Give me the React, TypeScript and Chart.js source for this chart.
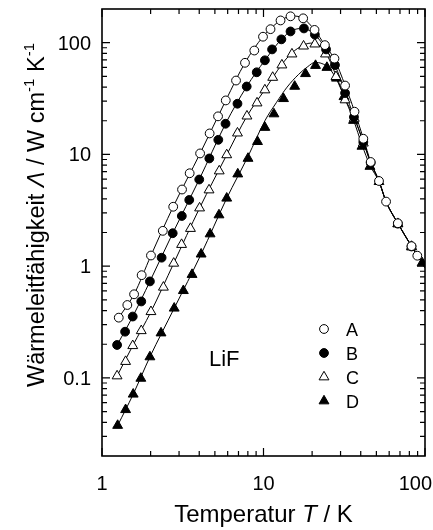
import React, { useEffect, useRef } from 'react';
import { Chart, registerables } from 'chart.js';

Chart.register(...registerables);

// ---------- data ----------
const seriesNames = ['A', 'B', 'C', 'D'];

// measured points, temperature T / K
const aT = [1.27, 1.435, 1.58, 1.76, 2.01, 2.38, 2.76, 3.13, 3.49, 4.05, 4.64, 5.23, 5.84, 6.76, 7.68, 8.77, 9.93, 11.05, 12.75, 14.7, 17.6, 20.7, 24.0, 27.5, 32.0, 36.6, 41.5, 46.1, 51.9, 57.4, 67.9, 82.5, 89.6];
const aK = [0.346, 0.449, 0.56, 0.83, 1.245, 2.07, 3.4, 4.85, 6.78, 10.2, 15.4, 21.9, 30.4, 45.8, 66, 85, 113, 132, 158, 172, 165, 130, 95, 72, 41.3, 24.1, 13.8, 8.55, 5.78, 3.78, 2.42, 1.51, 1.24];

const bT = [1.24, 1.39, 1.55, 1.75, 1.98, 2.34, 2.74, 3.12, 3.47, 4.0, 4.62, 5.25, 5.82, 6.9, 7.87, 9.08, 10.2, 11.3, 12.9, 14.7, 17.8, 20.8, 24.4, 27.7, 32.0, 36.3, 41.5, 46.1, 67.9, 82.5];
const bK = [0.197, 0.259, 0.354, 0.483, 0.73, 1.19, 1.97, 2.81, 3.91, 5.96, 9.2, 13.5, 18.8, 28.4, 40.5, 54.3, 69.5, 87, 107, 126, 134, 118, 87, 63, 35.4, 21.6, 12.9, 8.4, 2.4, 1.5];

const cT = [1.24, 1.40, 1.55, 1.75, 2.01, 2.40, 2.78, 3.11, 3.53, 4.02, 4.6, 5.32, 5.92, 6.9, 7.9, 9.12, 10.2, 11.4, 13.0, 15.0, 17.7, 20.8, 24.2, 28.1, 32.0, 36.5, 41.5, 51.9, 67.9, 82.5];
const cK = [0.104, 0.140, 0.194, 0.264, 0.391, 0.647, 1.06, 1.56, 2.17, 3.31, 4.8, 7.1, 9.9, 15.5, 22, 28.8, 37.7, 48.8, 63, 79, 93, 97, 79, 49.6, 30.7, 21, 12.6, 5.7, 2.4, 1.5];

const dT = [1.25, 1.40, 1.56, 1.74, 1.98, 2.32, 2.80, 3.19, 3.61, 4.11, 4.67, 5.30, 5.92, 6.93, 8.02, 9.18, 10.2, 11.6, 13.3, 15.6, 18.2, 21.0, 24.7, 28.3, 31.5, 36.1, 40.7, 45.6, 67.9, 82.5, 96];
const dK = [0.0375, 0.0519, 0.0714, 0.099, 0.154, 0.252, 0.42, 0.603, 0.841, 1.28, 1.94, 2.87, 4.05, 6.67, 9.2, 13.0, 17.4, 23, 31.5, 40.6, 52.7, 62.4, 59.9, 48, 32.8, 20.1, 11.8, 7.8, 2.38, 1.48, 1.07];

// fitted curves
const aFitT = [1.27, 1.58, 2.01, 2.76, 4.05, 5.84, 7.68, 9.93, 12.75, 15.2, 17.6, 20.7, 24.0, 27.5, 32.0, 36.6, 41.5, 46.1, 51.9, 57.4, 67.9, 82.5, 100];
const aFitK = [0.346, 0.56, 1.245, 3.4, 10.2, 30.4, 66, 113, 158, 173, 165, 130, 95, 71, 41.5, 24.3, 13.9, 8.6, 5.8, 3.8, 2.42, 1.51, 0.97];

const bFitT = [1.24, 1.55, 1.98, 2.74, 4.0, 5.82, 7.87, 10.2, 12.9, 15.0, 17.3, 20.8, 24.4, 27.7, 32.0, 36.3, 41.5, 46.1, 51.9, 57.4, 67.9, 82.5, 100];
const bFitK = [0.197, 0.354, 0.73, 1.97, 5.96, 18.8, 40.5, 69.5, 107, 128, 134, 118, 87, 63, 36, 21.8, 13.1, 8.45, 5.78, 3.78, 2.42, 1.51, 0.97];

const cFitT = [1.24, 1.55, 2.01, 2.78, 4.02, 5.92, 7.9, 10.2, 13.0, 15.0, 17.7, 19.6, 21.5, 24.2, 28.1, 32.0, 36.5, 41.5, 46.1, 51.9, 57.4, 67.9, 82.5, 100];
const cFitK = [0.104, 0.194, 0.391, 1.06, 3.31, 9.9, 22, 38, 64, 81, 95, 99, 97, 82, 51, 31.5, 21.2, 12.8, 8.4, 5.75, 3.78, 2.42, 1.51, 0.97];

const dFitT = [1.25, 1.56, 1.98, 2.80, 4.11, 5.92, 8.02, 10.2, 12.0, 14.0, 16.5, 18.8, 20.8, 23.0, 25.5, 28.3, 31.5, 36.1, 40.7, 45.6, 51.9, 57.4, 67.9, 82.5, 100];
const dFitK = [0.0375, 0.0714, 0.154, 0.42, 1.28, 4.05, 9.6, 20, 29, 40, 52, 61, 66.5, 65, 59, 47, 33, 20.3, 12.2, 8.0, 5.7, 3.76, 2.4, 1.5, 0.97];

// axes
const xMin = 1;
const xMax = 100;
const yMin = 0.02;
const yMax = 200;
const xMajorTicks = [1, 10, 100];
const xTickLabels = ['1', '10', '100'];
const xMinorTicks = [2, 3, 4, 5, 6, 7, 8, 9, 20, 30, 40, 50, 60, 70, 80, 90];
const yMajorTicks = [0.1, 1, 10, 100];
const yTickLabels = ['0.1', '1', '10', '100'];
const yMinorTicks = [0.03, 0.04, 0.05, 0.06, 0.07, 0.08, 0.09, 0.2, 0.3, 0.4, 0.5, 0.6, 0.7, 0.8, 0.9, 2, 3, 4, 5, 6, 7, 8, 9, 20, 30, 40, 50, 60, 70, 80, 90];
const sampleLabel = 'LiF';

// ---------- helpers ----------
const FONT = '"Liberation Sans", Arial, Helvetica, sans-serif';
const zip = (xs: number[], ys: number[]) => xs.map((x, i) => ({ x, y: ys[i] }));

const markerStyles = [
  { style: 'circle', fill: '#ffffff', r: 4.4 },
  { style: 'circle', fill: '#000000', r: 4.4 },
  { style: 'triangle', fill: '#ffffff', r: 5.7 },
  { style: 'triangle', fill: '#000000', r: 5.7 },
];

function drawMarker(ctx: CanvasRenderingContext2D, style: string, fill: string, r: number, x: number, y: number) {
  ctx.beginPath();
  if (style === 'circle') {
    ctx.arc(x, y, r, 0, Math.PI * 2);
  } else {
    let rad = 0;
    ctx.moveTo(x + Math.sin(rad) * r, y - Math.cos(rad) * r);
    rad += (2 * Math.PI) / 3;
    ctx.lineTo(x + Math.sin(rad) * r, y - Math.cos(rad) * r);
    rad += (2 * Math.PI) / 3;
    ctx.lineTo(x + Math.sin(rad) * r, y - Math.cos(rad) * r);
    ctx.closePath();
  }
  ctx.fillStyle = fill;
  ctx.fill();
  ctx.lineWidth = 1;
  ctx.strokeStyle = '#000';
  ctx.stroke();
}

type Run = { text: string; font: string; dy?: number };
function drawRuns(ctx: CanvasRenderingContext2D, runs: Run[], cx: number, y: number) {
  let total = 0;
  for (const r of runs) {
    ctx.font = r.font;
    total += ctx.measureText(r.text).width;
  }
  let x = cx - total / 2;
  ctx.textAlign = 'left';
  ctx.textBaseline = 'alphabetic';
  for (const r of runs) {
    ctx.font = r.font;
    ctx.fillText(r.text, x, y + (r.dy || 0));
    x += ctx.measureText(r.text).width;
  }
}

const decorPlugin = {
  id: 'decor',
  beforeDraw(chart: any) {
    const ctx = chart.ctx;
    ctx.save();
    ctx.fillStyle = '#ffffff';
    ctx.fillRect(0, 0, chart.width, chart.height);
    ctx.restore();
  },
  afterDraw(chart: any) {
    const { ctx, chartArea: ca } = chart;
    const xs = chart.scales.x;
    const ys = chart.scales.y;
    ctx.save();
    ctx.strokeStyle = '#000';
    ctx.fillStyle = '#000';

    // tick marks (inward, on all four sides)
    ctx.lineWidth = 1.2;
    const MAJ = 8;
    const MIN = 5;
    const xt = (v: number, len: number) => {
      const px = xs.getPixelForValue(v);
      ctx.beginPath();
      ctx.moveTo(px, ca.bottom);
      ctx.lineTo(px, ca.bottom - len);
      ctx.moveTo(px, ca.top);
      ctx.lineTo(px, ca.top + len);
      ctx.stroke();
    };
    const yt = (v: number, len: number) => {
      const py = ys.getPixelForValue(v);
      ctx.beginPath();
      ctx.moveTo(ca.left, py);
      ctx.lineTo(ca.left + len, py);
      ctx.moveTo(ca.right, py);
      ctx.lineTo(ca.right - len, py);
      ctx.stroke();
    };
    xMajorTicks.forEach((v) => xt(v, MAJ));
    xMinorTicks.forEach((v) => xt(v, MIN));
    yMajorTicks.forEach((v) => yt(v, MAJ));
    yMinorTicks.forEach((v) => yt(v, MIN));

    // frame
    ctx.lineWidth = 1.6;
    ctx.strokeRect(ca.left, ca.top, ca.right - ca.left, ca.bottom - ca.top);

    // tick labels
    ctx.font = `20px ${FONT}`;
    ctx.textBaseline = 'alphabetic';
    xMajorTicks.forEach((v, i) => {
      const label = xTickLabels[i];
      const w = ctx.measureText(label).width;
      let cx = xs.getPixelForValue(v);
      if (cx + w / 2 > chart.width - 1) cx = chart.width - 1 - w / 2;
      ctx.textAlign = 'center';
      ctx.fillText(label, cx, ca.bottom + 34);
    });
    yMajorTicks.forEach((v, i) => {
      const py = ys.getPixelForValue(v);
      ctx.textAlign = 'right';
      ctx.fillText(yTickLabels[i], ca.left - 11, py + 7);
    });

    // axis titles
    drawRuns(
      ctx,
      [
        { text: 'Temperatur ', font: `24px ${FONT}` },
        { text: 'T', font: `italic 24px ${FONT}` },
        { text: ' / K', font: `24px ${FONT}` },
      ],
      (ca.left + ca.right) / 2,
      522
    );
    ctx.save();
    ctx.translate(44, 215);
    ctx.rotate(-Math.PI / 2);
    drawRuns(
      ctx,
      [
        { text: 'Wärmeleitfähigkeit ', font: `23.5px ${FONT}` },
        { text: 'Λ', font: `italic 23.5px ${FONT}` },
        { text: ' / W cm', font: `23.5px ${FONT}` },
        { text: '-1', font: `15px ${FONT}`, dy: -10 },
        { text: ' K', font: `23.5px ${FONT}` },
        { text: '-1', font: `15px ${FONT}`, dy: -10 },
      ],
      0,
      0
    );
    ctx.restore();

    // sample label
    ctx.font = `22px ${FONT}`;
    ctx.textAlign = 'left';
    ctx.fillStyle = '#000';
    ctx.fillText(sampleLabel, 209, 366);

    // legend
    const legX = 324;
    const legY0 = 329;
    const legDy = 24;
    seriesNames.forEach((name, i) => {
      const m = markerStyles[i];
      const y = legY0 + i * legDy;
      drawMarker(ctx, m.style, m.fill, m.r, legX, y);
      ctx.fillStyle = '#000';
      ctx.font = `18px ${FONT}`;
      ctx.textAlign = 'left';
      ctx.textBaseline = 'alphabetic';
      ctx.fillText(name, 346, y + 6.5);
    });

    ctx.restore();
  },
};

export default function App() {
  const ref = useRef<HTMLCanvasElement | null>(null);

  useEffect(() => {
    if (!ref.current) return;
    const pts = [zip(aT, aK), zip(bT, bK), zip(cT, cK), zip(dT, dK)];
    const fits = [zip(aFitT, aFitK), zip(bFitT, bFitK), zip(cFitT, cFitK), zip(dFitT, dFitK)];

    const datasets: any[] = [];
    seriesNames.forEach((name, i) => {
      const m = markerStyles[i];
      datasets.push({
        label: name,
        data: pts[i],
        showLine: false,
        pointStyle: m.style,
        pointRadius: m.r,
        pointBackgroundColor: m.fill,
        pointBorderColor: '#000',
        pointBorderWidth: 1,
        order: 0,
      });
      datasets.push({
        label: name + ' fit',
        data: fits[i],
        showLine: true,
        pointRadius: 0,
        borderColor: '#000',
        borderWidth: 1,
        cubicInterpolationMode: 'monotone',
        fill: false,
        order: 1,
      });
    });

    const chart = new Chart(ref.current, {
      type: 'scatter',
      data: { datasets },
      options: {
        responsive: false,
        animation: false,
        devicePixelRatio: 1,
        layout: { padding: { left: 102, right: 8, top: 9, bottom: 74 } },
        plugins: { legend: { display: false }, tooltip: { enabled: false } },
        scales: {
          x: { type: 'logarithmic', min: xMin, max: xMax, display: false },
          y: { type: 'logarithmic', min: yMin, max: yMax, display: false },
        },
      },
      plugins: [decorPlugin],
    } as any);

    return () => chart.destroy();
  }, []);

  return (
    <div style={{ position: 'fixed', left: 0, top: 0, width: 433, height: 530, background: '#fff' }}>
      <canvas ref={ref} width={433} height={530} style={{ display: 'block', width: 433, height: 530 }} />
    </div>
  );
}
